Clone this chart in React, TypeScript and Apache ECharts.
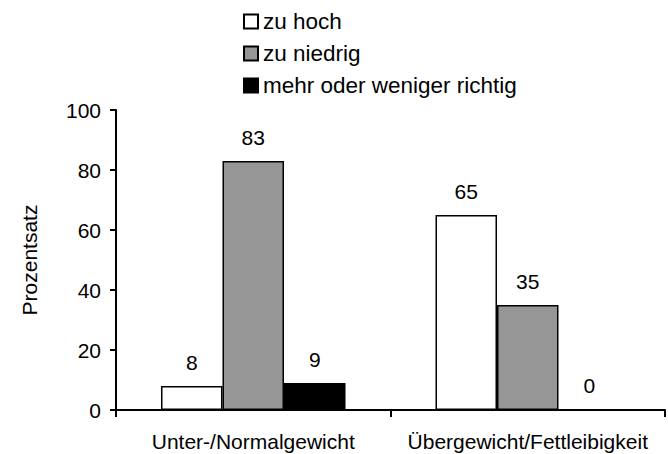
import React, { useEffect, useRef } from "react";
import * as echarts from "echarts";

const categories = ["Unter-/Normalgewicht", "Übergewicht/Fettleibigkeit"];
const seriesNames = ["zu hoch", "zu niedrig", "mehr oder weniger richtig"];
const zuHoch = [8, 65];
const zuNiedrig = [83, 35];
const richtig = [9, 0];
const yTicks = { min: 0, max: 100, interval: 20 };

const FONT = "Liberation Sans, Arial, sans-serif";
const FS = 21;

export default function App() {
  const ref = useRef<HTMLDivElement>(null);
  useEffect(() => {
    if (!ref.current) return;
    const chart = echarts.init(ref.current, null, { renderer: "svg" });
    const fills = ["#ffffff", "#969696", "#000000"];
    const datas = [zuHoch, zuNiedrig, richtig];
    chart.setOption({
      animation: false,
      textStyle: { fontFamily: FONT },
      legend: {
        orient: "vertical",
        left: 238,
        top: 5,
        itemWidth: 14,
        itemHeight: 14,
        itemGap: 9,
        icon: "rect",
        textStyle: { fontSize: 22.5, color: "#000", fontFamily: FONT },
        data: seriesNames,
      },
      grid: { left: 116, right: 3, top: 110, bottom: 44 },
      xAxis: {
        type: "category",
        data: categories,
        axisLine: { lineStyle: { color: "#000", width: 2 } },
        axisTick: { show: true, length: 7, lineStyle: { color: "#000", width: 2 } },
        axisLabel: { interval: 0, fontSize: FS, color: "#000", margin: 21, fontFamily: FONT },
      },
      yAxis: {
        type: "value",
        min: yTicks.min,
        max: yTicks.max,
        interval: yTicks.interval,
        name: "Prozentsatz",
        nameLocation: "middle",
        nameGap: 76,
        nameTextStyle: { fontSize: FS, color: "#000", fontFamily: FONT },
        axisLine: { show: true, lineStyle: { color: "#000", width: 2 } },
        axisTick: { show: true, length: 6, lineStyle: { color: "#000", width: 2 } },
        axisLabel: { fontSize: FS, color: "#000", margin: 15, fontFamily: FONT },
        splitLine: { show: false },
      },
      series: seriesNames.map((name, i) => ({
        name,
        type: "bar",
        data: datas[i],
        barWidth: 61.5,
        barGap: "0%",
        itemStyle: { color: fills[i], borderColor: "#000", borderWidth: 1.5 },
        label: {
          show: true,
          position: "top",
          distance: 13,
          fontSize: FS,
          color: "#000",
          fontFamily: FONT,
        },
      })),
    });
    return () => chart.dispose();
  }, []);
  return (
    <div
      ref={ref}
      style={{ position: "absolute", left: 0, top: 0, width: 668, height: 454 }}
    />
  );
}
